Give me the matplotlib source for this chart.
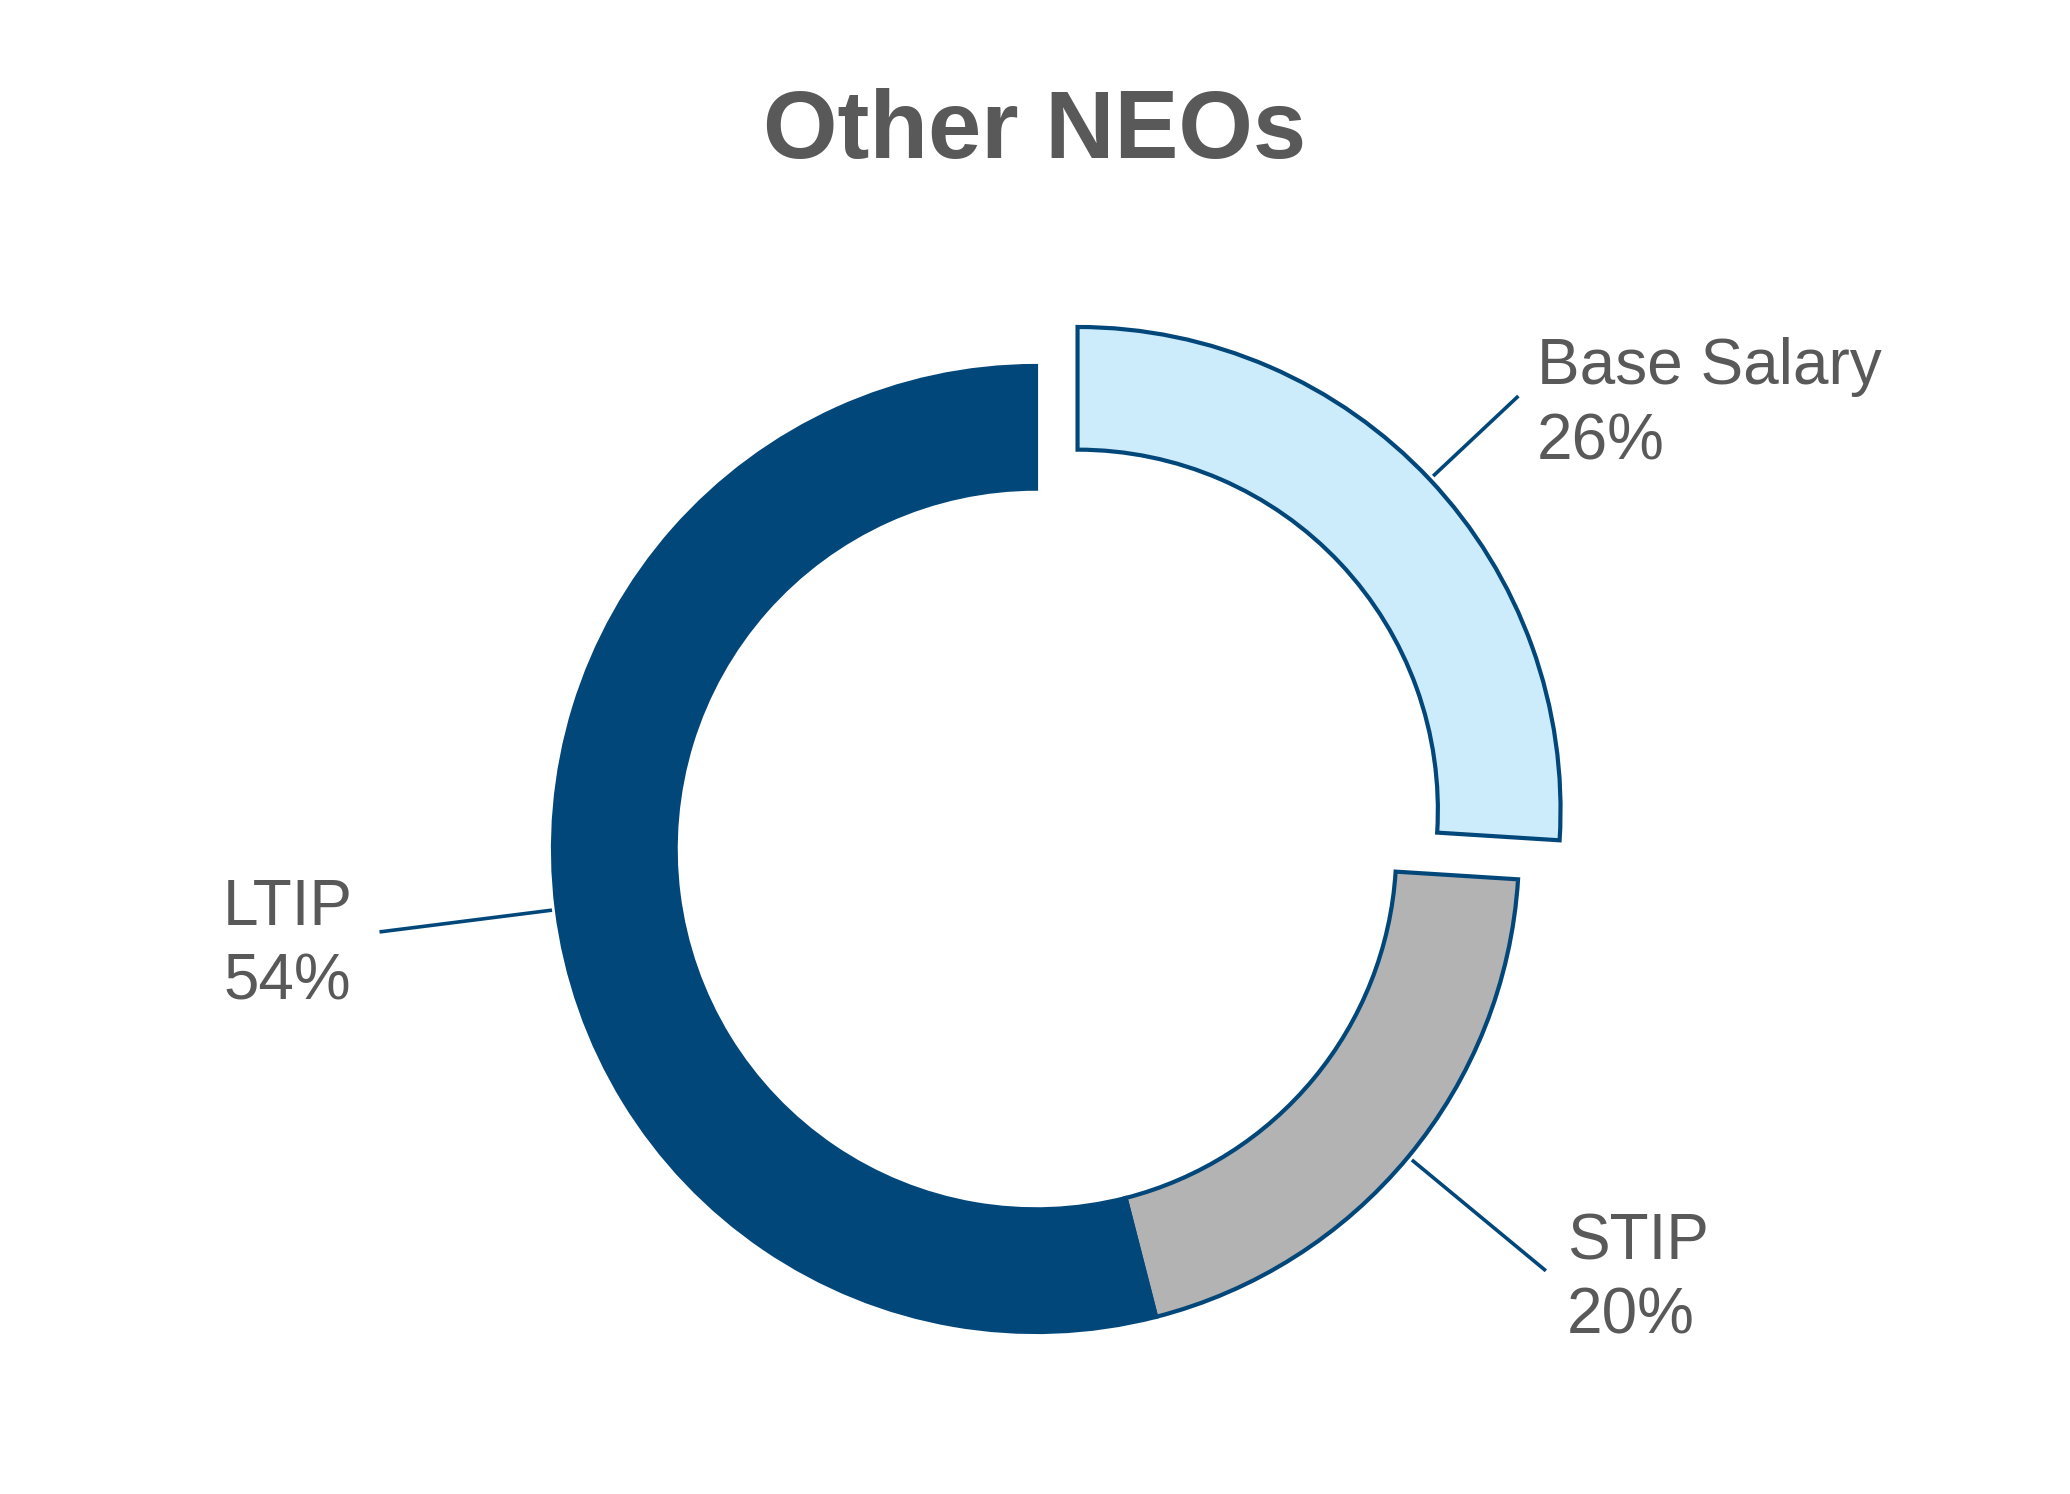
import numpy as np
import matplotlib
matplotlib.use("Agg")
import matplotlib.pyplot as plt

plt.rcParams['font.family'] = ['Liberation Sans', 'DejaVu Sans']

# data
labels = ["Base Salary", "STIP", "LTIP"]
shares = [26, 20, 54]
colors = ["#CCECFC", "#B3B3B3", "#02477A"]
explode = [0.118, 0, 0]

text_grey = "#595959"
edge_blue = "#02477A"

W, H = 2070, 1494
R = 483.0          # outer radius in px
cx, cy = 1036, 849  # donut centre in px (from top)

fig = plt.figure(figsize=(W / 100, H / 100), dpi=100)
ax = fig.add_axes([0, 0, 1, 1])

wedges, _ = ax.pie(shares, colors=colors, explode=explode, startangle=90,
                   counterclock=False, radius=1.0,
                   wedgeprops=dict(width=0.254, edgecolor=edge_blue, linewidth=3.0))

ax.set_xlim(-cx / R, (W - cx) / R)
ax.set_ylim(-(H - cy) / R, cy / R)
ax.set_aspect("equal")
ax.axis("off")


def px(x, y):
    return (x - cx) / R, (cy - y) / R


# leader lines, radial at each wedge's mid-angle
for w in wedges:
    mid = np.deg2rad((w.theta1 + w.theta2) / 2)
    ox, oy = w.center
    ax.plot([ox + 1.01 * np.cos(mid), 1.37 * np.cos(mid)],
            [oy + 1.01 * np.sin(mid), 1.37 * np.sin(mid)],
            color=edge_blue, lw=2.6, solid_capstyle="butt")

# label positions (left x, first baseline y) in px
label_pos = {"Base Salary": (1537, 384), "STIP": (1567, 1259), "LTIP": (223, 925)}
for name, val in zip(labels, shares):
    lx, ly = label_pos[name]
    ax.text(*px(lx, ly), name, fontsize=46, color=text_grey, ha="left", va="baseline")
    ax.text(*px(lx, ly + 75), f"{val}%", fontsize=46, color=text_grey, ha="left", va="baseline")

ax.text(*px(1035, 158), "Other NEOs", fontsize=69, fontweight="bold",
        color=text_grey, ha="center", va="baseline")

fig.savefig("out.png", dpi=100, facecolor="white")
